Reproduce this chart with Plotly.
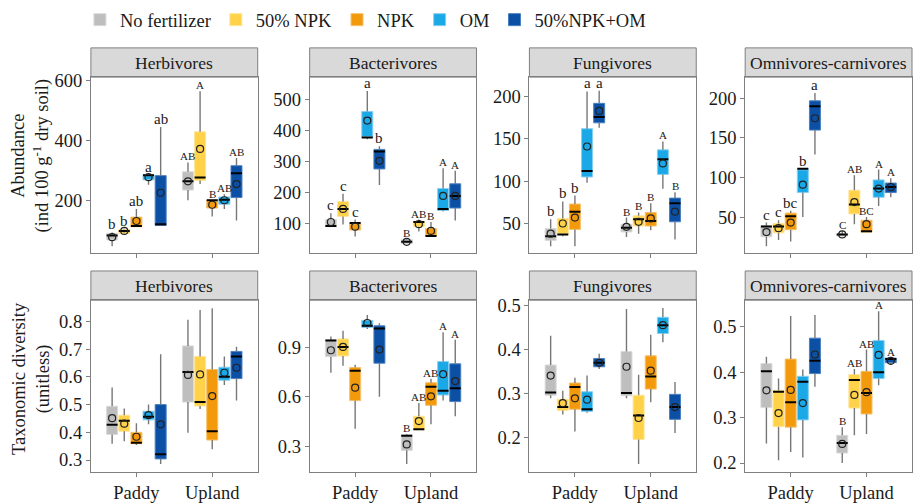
import plotly.graph_objects as go

TREATMENTS = ["No fertilizer", "50% NPK", "NPK", "OM", "50%NPK+OM"]
SITES = ["Paddy", "Upland"]
GROUPS = ["Herbivores", "Bacterivores", "Fungivores", "Omnivores-carnivores"]

# Each list: 5 Paddy values (treatment order) followed by 5 Upland values
AB_HERB_LOW = [49, 95, 114, 254, 118, 202, 256, 148, 173, 135]
AB_HERB_Q1 = [70, 92, 114, 270, 118, 236, 268, 176, 189, 211]
AB_HERB_MED = [85, 100, 116, 285, 122, 265, 278, 202, 204, 292]
AB_HERB_Q3 = [92, 105, 146, 287, 284, 297, 430, 202, 213, 317]
AB_HERB_HIGH = [95, 108, 173, 287, 446, 328, 565, 202, 222, 343]
AB_HERB_MEAN = [79, 100, 133, 279, 227, 265, 373, 187, 202, 256]
AB_HERB_LET = ["b", "b", "ab", "a", "ab", "AB", "A", "B", "AB", "AB"]

AB_BACT_LOW = [90, 97, 58, 372, 224, 35, 74, 60, 139, 110]
AB_BACT_Q1 = [90, 123, 79, 377, 276, 35, 90, 60, 142, 150]
AB_BACT_MED = [92, 147, 102, 377, 332, 41, 105, 60, 147, 189]
AB_BACT_Q3 = [113, 171, 102, 461, 339, 48, 107, 84, 213, 228]
AB_BACT_HIGH = [133, 196, 113, 527, 349, 50, 113, 105, 278, 270]
AB_BACT_MEAN = [105, 147, 90, 432, 302, 41, 98, 76, 189, 189]
AB_BACT_LET = ["c", "c", "c", "a", "b", "B", "AB", "B", "A", "A"]

AB_FUNG_LOW = [23, 35, 23, 98, 163, 34, 38, 42, 91, 31]
AB_FUNG_Q1 = [30, 37, 43, 105, 169, 40, 47, 47, 108, 52]
AB_FUNG_MED = [35, 37, 64, 112, 176, 45, 55, 53, 126, 74]
AB_FUNG_Q3 = [44, 56, 73, 162, 192, 49, 59, 63, 137, 80]
AB_FUNG_HIGH = [55, 76, 83, 206, 207, 57, 63, 74, 147, 87]
AB_FUNG_MEAN = [38, 50, 57, 141, 183, 46, 52, 56, 121, 64]
AB_FUNG_LET = ["b", "b", "b", "a", "a", "B", "B", "B", "A", "B"]

AB_OMNI_LOW = [13, 21, 19, 50, 129, 26, 41, 31, 64, 75]
AB_OMNI_Q1 = [25, 30, 34, 81, 160, 26, 54, 31, 75, 81]
AB_OMNI_MED = [38, 38, 51, 111, 190, 28, 66, 32, 86, 88]
AB_OMNI_Q3 = [39, 42, 55, 111, 197, 29, 84, 46, 97, 93]
AB_OMNI_HIGH = [43, 46, 58, 111, 207, 33, 103, 50, 110, 99]
AB_OMNI_MEAN = [31, 36, 43, 91, 175, 28, 69, 41, 86, 88]
AB_OMNI_LET = ["c", "c", "bc", "b", "a", "C", "AB", "BC", "A", "A"]

TD_HERB_LOW = [0.359, 0.368, 0.354, 0.429, 0.286, 0.398, 0.484, 0.339, 0.571, 0.515]
TD_HERB_Q1 = [0.392, 0.404, 0.359, 0.445, 0.304, 0.509, 0.495, 0.372, 0.588, 0.594]
TD_HERB_MED = [0.427, 0.442, 0.362, 0.456, 0.321, 0.618, 0.509, 0.404, 0.601, 0.674]
TD_HERB_Q3 = [0.494, 0.462, 0.400, 0.476, 0.500, 0.712, 0.674, 0.627, 0.635, 0.692]
TD_HERB_HIGH = [0.562, 0.486, 0.433, 0.500, 0.682, 0.806, 0.842, 0.848, 0.674, 0.709]
TD_HERB_MEAN = [0.451, 0.431, 0.384, 0.462, 0.429, 0.607, 0.609, 0.531, 0.615, 0.633]
TD_HERB_LET = ["", "", "", "", "", "", "", "", "", ""]

TD_BACT_LOW = [0.746, 0.789, 0.405, 1.013, 0.601, 0.191, 0.399, 0.433, 0.577, 0.482]
TD_BACT_Q1 = [0.845, 0.849, 0.577, 1.023, 0.805, 0.274, 0.399, 0.548, 0.611, 0.571]
TD_BACT_MED = [0.944, 0.904, 0.759, 1.033, 1.017, 0.363, 0.403, 0.662, 0.637, 0.653]
TD_BACT_Q3 = [0.948, 0.953, 0.779, 1.066, 1.033, 0.369, 0.482, 0.686, 0.815, 0.801]
TD_BACT_HIGH = [0.967, 1.003, 0.795, 1.098, 1.049, 0.373, 0.563, 0.710, 0.993, 0.948]
TD_BACT_MEAN = [0.884, 0.904, 0.656, 1.050, 0.888, 0.310, 0.452, 0.603, 0.738, 0.696]
TD_BACT_LET = ["", "", "", "", "", "B", "AB", "AB", "A", "A"]

TD_FUNG_LOW = [0.289, 0.252, 0.213, 0.256, 0.356, 0.289, 0.139, 0.280, 0.417, 0.210]
TD_FUNG_Q1 = [0.296, 0.261, 0.264, 0.259, 0.361, 0.295, 0.195, 0.310, 0.437, 0.241]
TD_FUNG_MED = [0.302, 0.269, 0.315, 0.264, 0.370, 0.301, 0.250, 0.339, 0.456, 0.269]
TD_FUNG_Q3 = [0.365, 0.287, 0.324, 0.304, 0.380, 0.396, 0.296, 0.386, 0.474, 0.298]
TD_FUNG_HIGH = [0.432, 0.306, 0.336, 0.341, 0.391, 0.493, 0.343, 0.434, 0.495, 0.326]
TD_FUNG_MEAN = [0.341, 0.278, 0.289, 0.286, 0.370, 0.361, 0.244, 0.352, 0.456, 0.269]
TD_FUNG_LET = ["", "", "", "", "", "", "", "", "", ""]

TD_OMNI_LOW = [0.243, 0.206, 0.224, 0.212, 0.368, 0.200, 0.261, 0.264, 0.371, 0.416]
TD_OMNI_Q1 = [0.322, 0.280, 0.279, 0.295, 0.397, 0.222, 0.321, 0.308, 0.386, 0.421]
TD_OMNI_MED = [0.402, 0.357, 0.334, 0.379, 0.425, 0.244, 0.383, 0.354, 0.400, 0.429]
TD_OMNI_Q3 = [0.419, 0.360, 0.429, 0.391, 0.475, 0.261, 0.395, 0.402, 0.470, 0.431]
TD_OMNI_HIGH = [0.434, 0.386, 0.524, 0.406, 0.526, 0.279, 0.407, 0.450, 0.534, 0.431]
TD_OMNI_MEAN = [0.360, 0.310, 0.361, 0.332, 0.439, 0.242, 0.350, 0.356, 0.438, 0.425]
TD_OMNI_LET = ["", "", "", "", "", "B", "AB", "AB", "A", "A"]

Y_TICKS = [
    [200, 400, 600], [100, 200, 300, 400, 500], [50, 100, 150, 200], [50, 100, 150, 200],
    [0.3, 0.4, 0.5, 0.6, 0.7, 0.8], [0.3, 0.6, 0.9], [0.2, 0.3, 0.4, 0.5], [0.2, 0.3, 0.4, 0.5],
]
Y_RANGES = [
    [25, 612], [3.6, 572], [14.6, 223], [4, 227],
    [0.258, 0.877], [0.144, 1.189], [0.1216, 0.513], [0.181, 0.5586],
]
Y_TITLES = ["Abundance<br>(ind 100 g<sup>-1</sup> dry soil)", "Taxonomic diversity<br>(unitless)"]

PANELS = [
    (AB_HERB_LOW, AB_HERB_Q1, AB_HERB_MED, AB_HERB_Q3, AB_HERB_HIGH, AB_HERB_MEAN, AB_HERB_LET),
    (AB_BACT_LOW, AB_BACT_Q1, AB_BACT_MED, AB_BACT_Q3, AB_BACT_HIGH, AB_BACT_MEAN, AB_BACT_LET),
    (AB_FUNG_LOW, AB_FUNG_Q1, AB_FUNG_MED, AB_FUNG_Q3, AB_FUNG_HIGH, AB_FUNG_MEAN, AB_FUNG_LET),
    (AB_OMNI_LOW, AB_OMNI_Q1, AB_OMNI_MED, AB_OMNI_Q3, AB_OMNI_HIGH, AB_OMNI_MEAN, AB_OMNI_LET),
    (TD_HERB_LOW, TD_HERB_Q1, TD_HERB_MED, TD_HERB_Q3, TD_HERB_HIGH, TD_HERB_MEAN, TD_HERB_LET),
    (TD_BACT_LOW, TD_BACT_Q1, TD_BACT_MED, TD_BACT_Q3, TD_BACT_HIGH, TD_BACT_MEAN, TD_BACT_LET),
    (TD_FUNG_LOW, TD_FUNG_Q1, TD_FUNG_MED, TD_FUNG_Q3, TD_FUNG_HIGH, TD_FUNG_MEAN, TD_FUNG_LET),
    (TD_OMNI_LOW, TD_OMNI_Q1, TD_OMNI_MED, TD_OMNI_Q3, TD_OMNI_HIGH, TD_OMNI_MEAN, TD_OMNI_LET),
]

FILLS = ["#BEBEBE", "#FFD24A", "#F39A0C", "#1AA8E6", "#0B50A4"]
EDGES = ["#DADADA", "#FFE597", "#F7C16A", "#86D0F2", "#4A80C2"]

FONT = "Liberation Serif, Times New Roman, DejaVu Serif, serif"
TXT = "#1a1a1a"
FRAME = "#7F7F7F"
W, H = 913, 503
COL_PX = [(91, 258), (310, 477), (530, 697), (746, 913)]
ROW_PLOT_PX = [(73, 254), (302, 478)]
ROW_STRIP_PX = [(43, 73), (272, 302)]
SPACING = 0.16
BOXW = 0.145

fig = go.Figure()
annotations = []
shapes = []
layout = {}

for k, (low, q1, med, q3, high, mean, let) in enumerate(PANELS):
    r, c = divmod(k, 4)
    ax = "" if k == 0 else str(k + 1)
    xref, yref = "x" + ax, "y" + ax
    pos = [s + 1 + (t - 2) * SPACING for s in range(2) for t in range(5)]

    # whiskers (drawn as two segments outside the box)
    wx, wy = [], []
    for i in range(10):
        wx += [pos[i], pos[i], None, pos[i], pos[i], None]
        wy += [low[i], q1[i], None, q3[i], high[i], None]
    fig.add_trace(go.Scatter(x=wx, y=wy, mode="lines", line=dict(color="#777777", width=1.4),
                             showlegend=False, hoverinfo="skip", xaxis=xref, yaxis=yref))

    for t in range(5):
        idx = [t, t + 5]
        fig.add_trace(go.Box(
            x=[pos[i] for i in idx],
            q1=[q1[i] for i in idx], median=[med[i] for i in idx], q3=[q3[i] for i in idx],
            lowerfence=[q1[i] for i in idx], upperfence=[q3[i] for i in idx],
            width=BOXW, whiskerwidth=0, boxpoints=False,
            fillcolor=FILLS[t], line=dict(color=EDGES[t], width=1),
            name=TREATMENTS[t], legendgroup=TREATMENTS[t], showlegend=(k == 0),
            hoverinfo="skip", xaxis=xref, yaxis=yref))

    mx, my = [], []
    for i in range(10):
        mx += [pos[i] - BOXW / 2, pos[i] + BOXW / 2, None]
        my += [med[i], med[i], None]
    fig.add_trace(go.Scatter(x=mx, y=my, mode="lines", line=dict(color="black", width=2),
                             showlegend=False, hoverinfo="skip", xaxis=xref, yaxis=yref))
    fig.add_trace(go.Scatter(x=pos, y=mean, mode="markers",
                             marker=dict(symbol="circle-open", size=7, color="#222222", line=dict(width=1.2)),
                             showlegend=False, hoverinfo="skip", xaxis=xref, yaxis=yref))

    for i in range(10):
        if let[i]:
            lower = let[i].islower()
            annotations.append(dict(x=pos[i], y=high[i], xref=xref, yref=yref, text=let[i],
                                    showarrow=False, yanchor="bottom", yshift=-2,
                                    font=dict(family=FONT, size=15 if lower else 11, color=TXT)))

    x0, x1 = COL_PX[c]
    y0, y1 = ROW_PLOT_PX[r]
    s0, s1 = ROW_STRIP_PX[r]
    layout["xaxis" + ax] = dict(
        domain=[x0 / W, x1 / W], range=[0.4, 2.6], anchor=yref,
        tickvals=[1, 2], ticktext=SITES, showticklabels=(r == 1),
        ticks="outside", ticklen=4, tickcolor=FRAME, showgrid=False, zeroline=False,
        showline=True, mirror=True, linecolor=FRAME, linewidth=1,
        tickfont=dict(family=FONT, size=18.5, color=TXT))
    layout["yaxis" + ax] = dict(
        domain=[1 - y1 / H, 1 - y0 / H], range=Y_RANGES[k], anchor=xref,
        tickvals=Y_TICKS[k], ticks="outside", ticklen=4, tickcolor=FRAME,
        showgrid=False, zeroline=False, showline=True, mirror=True, linecolor=FRAME, linewidth=1,
        tickfont=dict(family=FONT, size=18.5, color=TXT))
    shapes.append(dict(type="rect", xref="paper", yref="paper", x0=x0 / W, x1=x1 / W,
                       y0=1 - s1 / H, y1=1 - s0 / H, fillcolor="#D9D9D9",
                       line=dict(color=FRAME, width=1), layer="below"))
    annotations.append(dict(x=(x0 + x1) / 2 / W, y=1 - (s0 + s1) / 2 / H, xref="paper", yref="paper",
                            text=GROUPS[c], showarrow=False, xanchor="center", yanchor="middle",
                            font=dict(family=FONT, size=17.5, color=TXT)))

for r in range(2):
    y0, y1 = ROW_PLOT_PX[r]
    yc = (y0 + y1) / 2 - (10 if r == 0 else 8)
    annotations.append(dict(x=31 / W, y=1 - yc / H, xref="paper", yref="paper", text=Y_TITLES[r],
                            textangle=-90, showarrow=False, xanchor="center", yanchor="middle",
                            font=dict(family=FONT, size=18.5, color=TXT)))

fig.update_layout(
    **layout,
    width=W, height=H, margin=dict(l=0, r=0, t=0, b=0),
    paper_bgcolor="white", plot_bgcolor="white",
    boxmode="overlay",
    shapes=shapes, annotations=annotations,
    font=dict(family=FONT, size=18, color=TXT),
    legend=dict(orientation="h", x=80 / W, xanchor="left", y=1 + 5 / H, yanchor="top",
                font=dict(family=FONT, size=18.5, color=TXT), itemwidth=30,
                bgcolor="rgba(0,0,0,0)", traceorder="normal"),
)

fig.write_html("out.html")
